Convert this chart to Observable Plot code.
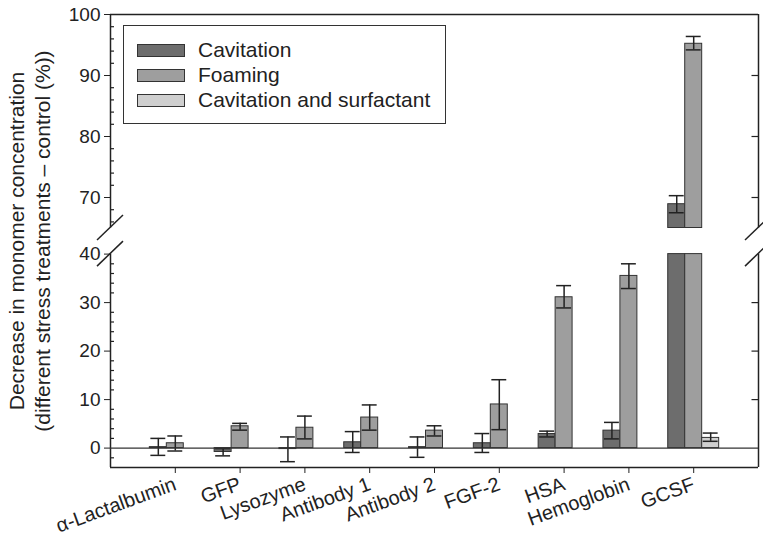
<!DOCTYPE html>
<html><head><meta charset="utf-8">
<script src="https://cdn.jsdelivr.net/npm/d3@7"></script>
<script src="https://cdn.jsdelivr.net/npm/@observablehq/plot@0.6"></script>
<style>
body{margin:0;background:#fff;font-family:"Liberation Sans",Arial,sans-serif;}
#wrap{position:relative;width:763px;height:542px;overflow:hidden;background:#fff;}
#wrap svg{position:absolute;left:0;overflow:visible;}
#legend{position:absolute;left:123px;top:25px;width:321px;height:97px;border:1.5px solid #333;background:#fff;}
.row{position:absolute;left:13px;height:24px;display:flex;align-items:center;font-size:21px;color:#222;white-space:nowrap;}
.sw{width:46px;height:11px;border:1.5px solid #333;margin-right:13px;}
#ytitle{position:absolute;width:470px;height:52px;left:-205px;top:214.5px;transform:rotate(-90deg);transform-origin:50% 50%;
  text-align:center;font-size:21px;line-height:26px;color:#222;white-space:nowrap;}
</style></head><body><div id="wrap"></div>
<script>
const categories = ["α-Lactalbumin","GFP","Lysozyme","Antibody 1","Antibody 2","FGF-2","HSA","Hemoglobin","GCSF"];
const series = ["Cavitation","Foaming","Cavitation and surfactant"];
const seriesColors = ["#6d6d6d","#9e9e9e","#cfcfcf"];
const cavitation     = [0.2,-0.8,-0.2,1.2,0.2,1.0,2.9,3.6,68.9];
const cavitationLow  = [-1.5,-1.6,-2.8,-0.9,-1.9,-0.9,2.3,1.9,67.5];
const cavitationHigh = [2.0,-0.1,2.3,3.4,2.3,3.0,3.5,5.3,70.3];
const foaming        = [1.0,4.5,4.2,6.3,3.6,9.0,31.1,35.5,95.2];
const foamingLow     = [-0.6,3.7,1.9,3.7,2.5,3.8,28.9,32.9,94.2];
const foamingHigh    = [2.5,5.1,6.6,8.9,4.6,14.1,33.5,38.0,96.4];
const surfactant     = [null,null,null,null,null,null,null,null,2.1];
const surfactantLow  = [null,null,null,null,null,null,null,null,1.4];
const surfactantHigh = [null,null,null,null,null,null,null,null,3.1];
const lowerTicks = [0,10,20,30,40];
const upperTicks = [70,80,90,100];
const lowerDomain = [-4,40];
const upperDomain = [65,100];
const yTitleLines = ["Decrease in monomer concentration","(different stress treatments – control (%))"];

const W = 763, mL = 110, mR = 5;
const splitY = 240;               // where the upper svg ends and the lower begins
const barW = 0.262, capW = 0.115;
const nX = categories.length + 1;
const pxPerX = (W - mL - mR) / nX;
const values = [cavitation, foaming, surfactant];
const lows = [cavitationLow, foamingLow, surfactantLow];
const highs = [cavitationHigh, foamingHigh, surfactantHigh];
const rows = [];
categories.forEach((c, i) => series.forEach((s, k) => {
  const v = values[k][i];
  if (v == null) return;
  rows.push({cat: c, series: s, v, lo: lows[k][i], hi: highs[k][i], xc: i + 1 + (k - 1) * barW});
}));

function panel({domain, ticks, height, marginTop, marginBottom, top, withX, breakAt}) {
  const [d0, d1] = domain;
  const inside = v => v >= d0 && v <= d1;
  const segs = rows.filter(d => d.v > d0 || d0 < 0).map(d => ({...d, y1: Math.max(0, d0), y2: Math.min(d.v, d1)}))
                   .filter(d => d.y2 > d.y1 || d0 < 0);
  const errs = rows.filter(d => inside(d.lo) && inside(d.hi));
  const minor = d3.range(Math.ceil(d0 / 2) * 2, d1, 2).filter(t => t % 10 !== 0 && t !== d0);
  const frameSegs = [0, nX].map(x => ({x, y1: d0, y2: d1}));
  const marks = [
    Plot.rectY(segs, {x1: d => d.xc - barW / 2, x2: d => d.xc + barW / 2, y1: "y1", y2: "y2", fill: "series", stroke: "#333", strokeWidth: 1}),
    Plot.ruleX(errs, {x: "xc", y1: "lo", y2: "hi", stroke: "#222", strokeWidth: 1.5}),
    Plot.ruleY(errs, {y: "lo", x1: d => d.xc - capW, x2: d => d.xc + capW, stroke: "#222", strokeWidth: 1.5}),
    Plot.ruleY(errs, {y: "hi", x1: d => d.xc - capW, x2: d => d.xc + capW, stroke: "#222", strokeWidth: 1.5}),
    Plot.ruleX(frameSegs, {x: "x", y1: "y1", y2: "y2", stroke: "#222", strokeWidth: 1.5}),
    Plot.ruleY(minor, {x1: 0, x2: 4 / pxPerX, stroke: "#222", strokeWidth: 1.2}),
    Plot.ruleY(ticks.filter(t => t > d0 && t < d1 && t !== 0), {x1: nX - 6.5 / pxPerX, x2: nX, stroke: "#222", strokeWidth: 1.2}),
    Plot.axisY({ticks, tickSize: 6, tickPadding: 4, label: null, fontSize: 19, stroke: "#222"})
  ];
  if (d0 < 0) marks.push(Plot.ruleY([0], {stroke: "#333", strokeWidth: 1.2}));
  if (withX) {
    marks.push(Plot.ruleY([d0], {stroke: "#222", strokeWidth: 1.5}));
    marks.push(Plot.axisX({ticks: categories.map((_, i) => i + 1), tickFormat: i => categories[i - 1], tickRotate: -20, tickSize: 6, tickPadding: 10, label: null, fontSize: 20}));
  } else {
    marks.push(Plot.ruleY([d1], {stroke: "#222", strokeWidth: 1.5}));
  }
  const p = Plot.plot({
    width: W, height, marginLeft: mL, marginRight: mR, marginTop, marginBottom,
    style: {fontFamily: "Liberation Sans, Arial, sans-serif", fontSize: "19px", color: "#222", background: "transparent"},
    x: {type: "linear", domain: [0, nX], axis: withX ? undefined : null},
    y: {domain},
    color: {domain: series, range: seriesColors},
    marks
  });
  p.style.top = top + "px";
  const sx = p.scale("x"), sy = p.scale("y");
  const svg = d3.select(p);
  [0, nX].forEach(xv => {
    const cx = sx.apply(xv), cy = sy.apply(breakAt);
    svg.append("line").attr("x1", cx - 13).attr("y1", cy + 12.5).attr("x2", cx + 13).attr("y2", cy - 12.5)
      .attr("stroke", "#222").attr("stroke-width", 1.5);
  });
  return p;
}

const wrap = document.getElementById("wrap");
wrap.appendChild(panel({domain: upperDomain, ticks: upperTicks, height: splitY, marginTop: 14, marginBottom: 12.5, top: 0, withX: false, breakAt: upperDomain[0]}));
wrap.appendChild(panel({domain: lowerDomain, ticks: lowerTicks, height: 542 - splitY, marginTop: 13.6, marginBottom: 75, top: splitY, withX: true, breakAt: lowerDomain[1]}));

// y title
const yt = document.createElement("div");
yt.id = "ytitle";
yt.innerHTML = yTitleLines.map(t => `<div>${t}</div>`).join("");
wrap.appendChild(yt);

// legend
const lg = document.createElement("div");
lg.id = "legend";
series.forEach((s, k) => {
  const r = document.createElement("div");
  r.className = "row";
  r.style.top = (12 + k * 25) + "px";
  r.innerHTML = `<div class="sw" style="background:${seriesColors[k]}"></div><span>${s}</span>`;
  lg.appendChild(r);
});
wrap.appendChild(lg);
</script></body></html>
